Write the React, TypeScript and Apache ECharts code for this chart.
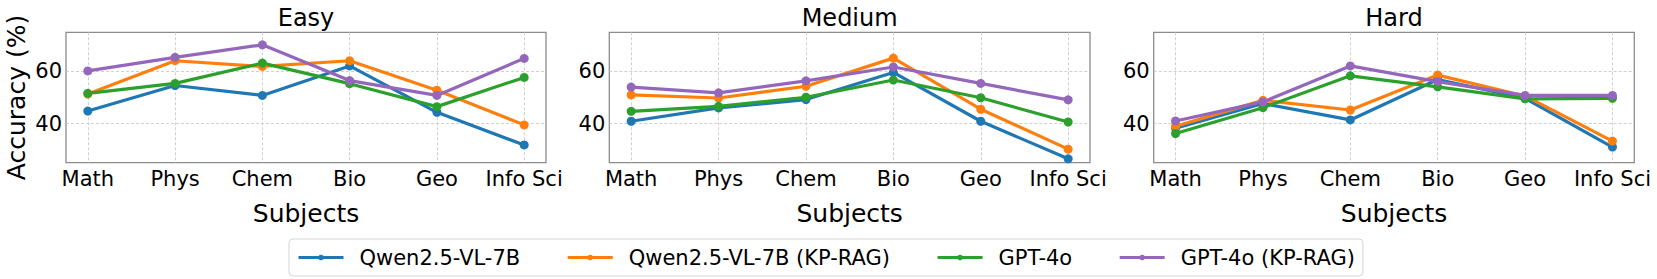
import React, { useEffect, useRef } from 'react';
import * as echarts from 'echarts';

const subjects = ['Math', 'Phys', 'Chem', 'Bio', 'Geo', 'Info Sci'];
const difficulties = ['Easy', 'Medium', 'Hard'];
const models = ['Qwen2.5-VL-7B', 'Qwen2.5-VL-7B (KP-RAG)', 'GPT-4o', 'GPT-4o (KP-RAG)'];
const colors = ['#1f77b4', '#ff7f0e', '#2ca02c', '#9467bd'];
const yTicks = [40, 60];

// Easy
const easyQwen = [44.8, 54.6, 50.8, 62.1, 44.3, 31.8];
const easyQwenRag = [51.3, 64.1, 61.9, 64.1, 52.8, 39.5];
const easyGpt = [51.6, 55.4, 63.2, 55.3, 46.5, 57.7];
const easyGptRag = [60.2, 65.4, 70.2, 56.5, 50.8, 65.0];
// Medium
const mediumQwen = [40.9, 46.0, 49.2, 59.6, 40.9, 26.5];
const mediumQwenRag = [51.0, 49.8, 54.3, 65.1, 45.5, 30.2];
const mediumGpt = [44.7, 46.6, 50.1, 56.7, 49.9, 40.6];
const mediumGptRag = [54.0, 51.8, 56.4, 61.7, 55.4, 49.1];
// Hard
const hardQwen = [38.2, 47.7, 41.4, 56.9, 49.7, 31.0];
const hardQwenRag = [39.0, 48.9, 45.2, 58.6, 50.6, 33.3];
const hardGpt = [36.2, 46.1, 58.3, 54.1, 49.5, 49.7];
const hardGptRag = [41.0, 48.3, 62.1, 56.1, 50.8, 50.8];

const panels = [
  [easyQwen, easyQwenRag, easyGpt, easyGptRag],
  [mediumQwen, mediumQwenRag, mediumGpt, mediumGptRag],
  [hardQwen, hardQwenRag, hardGpt, hardGptRag],
];

const FONT = 'DejaVu Sans';
const grids = [
  { left: 66, top: 32.3, width: 480, height: 130.4 },
  { left: 609.3, top: 32.3, width: 480.7, height: 130.4 },
  { left: 1153.7, top: 32.3, width: 480.6, height: 130.4 },
];

export default function App() {
  const ref = useRef<HTMLDivElement>(null);
  useEffect(() => {
    document.body.style.margin = '0';
    const chart = echarts.init(ref.current!, null, { renderer: 'svg' });
    const idx = subjects.map((_, i) => i);
    const splitLine = {
      show: true,
      lineStyle: { color: '#c4c4c4', width: 0.8, type: [3, 2] as any },
    };
    const option: any = {
      animation: false,
      backgroundColor: '#fff',
      title: difficulties.map((d, i) => ({
        text: d,
        left: grids[i].left + grids[i].width / 2,
        top: 6,
        padding: 0,
        textAlign: 'center',
        textStyle: { fontSize: 24, fontWeight: 'normal', color: '#000', fontFamily: FONT },
      })),
      legend: {
        data: models,
        left: 289,
        top: 239,
        padding: [8, 8, 8, 8],
        itemWidth: 45,
        itemHeight: 7,
        itemGap: 46,
        borderColor: '#d5d5d5',
        borderWidth: 1,
        borderRadius: 4,
        backgroundColor: '#fff',
        lineStyle: { width: 3 },
        textStyle: { fontSize: 21, color: '#000', fontFamily: FONT, padding: [0, 0, 0, 11] },
      },
      grid: grids.map((g) => ({
        ...g,
        show: true,
        borderColor: '#8c8c8c',
        borderWidth: 1.3,
        backgroundColor: 'transparent',
        containLabel: false,
      })),
      xAxis: grids.map((_, i) => ({
        type: 'value',
        gridIndex: i,
        min: -0.25,
        max: 5.25,
        axisLine: { show: false },
        axisTick: { show: false, customValues: idx },
        axisLabel: {
          customValues: idx,
          formatter: (v: number) => subjects[Math.round(v)] ?? '',
          fontSize: 21,
          color: '#000',
          fontFamily: FONT,
          margin: 6,
        },
        splitLine,
        name: 'Subjects',
        nameLocation: 'middle',
        nameGap: 38,
        nameTextStyle: { fontSize: 25, color: '#000', fontFamily: FONT },
      })),
      yAxis: grids.map((_, i) => ({
        type: 'value',
        gridIndex: i,
        min: 25,
        max: 75,
        axisLine: { show: false },
        axisTick: { show: false, customValues: yTicks },
        axisLabel: {
          customValues: yTicks,
          fontSize: 21,
          color: '#000',
          fontFamily: FONT,
          margin: 4,
        },
        splitLine,
        name: i === 0 ? 'Accuracy (%)' : '',
        nameLocation: 'middle',
        nameGap: 37,
        nameTextStyle: { fontSize: 25, color: '#000', fontFamily: FONT },
      })),
      series: panels.flatMap((vals, p) =>
        vals.map((arr, m) => ({
          type: 'line',
          name: models[m],
          xAxisIndex: p,
          yAxisIndex: p,
          data: arr.map((v, k) => [k, v]),
          symbol: 'circle',
          symbolSize: 9,
          color: colors[m],
          lineStyle: { width: 3.2, color: colors[m] },
          itemStyle: { color: colors[m] },
        }))
      ),
    };
    chart.setOption(option);
    return () => chart.dispose();
  }, []);
  return <div ref={ref} style={{ width: 1657, height: 279 }} />;
}
